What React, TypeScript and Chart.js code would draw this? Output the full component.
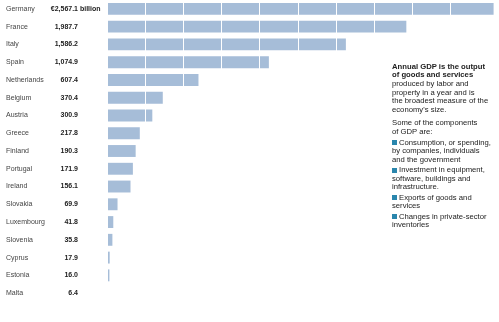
import React, { useEffect, useRef } from "react";
import { Chart, registerables } from "chart.js";

Chart.register(...registerables);

const countries = [
  "Germany", "France", "Italy", "Spain", "Netherlands", "Belgium", "Austria",
  "Greece", "Finland", "Portugal", "Ireland", "Slovakia", "Luxembourg",
  "Slovenia", "Cyprus", "Estonia", "Malta",
];
const gdpValues = [
  2567.1, 1987.7, 1586.2, 1074.9, 607.4, 370.4, 300.9, 217.8, 190.3, 171.9,
  156.1, 69.9, 41.8, 35.8, 17.9, 16.0, 6.4,
];
const valueLabels = [
  "€2,567.1", "1,987.7", "1,586.2", "1,074.9", "607.4", "370.4", "300.9",
  "217.8", "190.3", "171.9", "156.1", "69.9", "41.8", "35.8", "17.9", "16.0", "6.4",
];
const firstSuffix = " billion";

const introBold = ["Annual GDP is the output", "of goods and services"];
const introRest = [
  "produced by labor and",
  "property in a year and is",
  "the broadest measure of the",
  "economy's size.",
];
const componentsIntro = ["Some of the components", "of GDP are:"];
const components = [
  ["Consumption, or spending,", "by companies, individuals", "and the government"],
  ["Investment in equipment,", "software, buildings and", "infrastructure."],
  ["Exports of goods and", "services"],
  ["Changes in private-sector", "inventories"],
];

const FONT = "'Liberation Sans', Arial, sans-serif";
const BAR = "#a6bdd8";
const BULLET = "#2a86ad";

const valuePlugin = {
  id: "valueLabels",
  afterDraw(chart: any) {
    const { ctx } = chart;
    const y = chart.scales.y;
    ctx.save();
    ctx.font = `bold 7px ${FONT}`;
    ctx.fillStyle = "#222";
    ctx.textBaseline = "middle";
    valueLabels.forEach((t, i) => {
      const py = y.getPixelForValue(i);
      ctx.textAlign = "right";
      ctx.fillText(t, 78, py);
      if (i === 0) {
        ctx.textAlign = "left";
        ctx.fillText(firstSuffix, 78, py);
      }
    });
    ctx.restore();
  },
};

export default function App() {
  const ref = useRef<HTMLCanvasElement>(null);
  useEffect(() => {
    if (!ref.current) return;
    const chart = new Chart(ref.current, {
      type: "bar",
      data: {
        labels: countries,
        datasets: [
          {
            data: gdpValues,
            backgroundColor: BAR,
            borderWidth: 0,
            barPercentage: 0.67,
            categoryPercentage: 1,
          },
        ],
      },
      options: {
        indexAxis: "y",
        animation: false,
        responsive: false,
        events: [],
        layout: { padding: { left: 6, top: 0, right: 0, bottom: 20 } },
        plugins: { legend: { display: false }, tooltip: { enabled: false } },
        scales: {
          x: {
            min: 0,
            max: 2603,
            border: { display: false },
            grid: { color: "#ffffff", lineWidth: 1, drawTicks: false, z: 1 },
            ticks: { display: false, stepSize: 253.7 },
          },
          y: {
            border: { display: false },
            grid: { display: false },
            afterFit: (s: any) => {
              s.width = 101;
              s.paddingTop = 0;
              s.paddingBottom = 0;
            },
            ticks: {
              crossAlign: "far",
              color: "#444",
              font: { family: FONT, size: 7 },
              padding: 0,
            },
          },
        },
      },
      plugins: [valuePlugin],
    });
    return () => chart.destroy();
  }, []);

  const line: React.CSSProperties = { height: 8.7, lineHeight: "8.7px", whiteSpace: "nowrap" };
  return (
    <div style={{ position: "fixed", left: 0, top: 0, width: 499, height: 322, background: "#fff" }}>
      <canvas ref={ref} width={499} height={322} style={{ display: "block" }} />
      <div
        style={{
          position: "absolute",
          left: 392,
          top: 62.5,
          fontFamily: FONT,
          fontSize: 7.7,
          color: "#222",
        }}
      >
        {introBold.map((t) => (
          <div key={t} style={{ ...line, fontWeight: "bold" }}>{t}</div>
        ))}
        {introRest.map((t) => (
          <div key={t} style={line}>{t}</div>
        ))}
        <div style={{ height: 4.5 }} />
        {componentsIntro.map((t) => (
          <div key={t} style={line}>{t}</div>
        ))}
        {components.map((item, i) => (
          <div key={i} style={{ marginTop: i === 0 ? 2 : 1.5 }}>
            {item.map((t, j) => (
              <div key={t} style={line}>
                {j === 0 && (
                  <span
                    style={{
                      display: "inline-block",
                      width: 5,
                      height: 5,
                      background: BULLET,
                      marginRight: 2,
                      verticalAlign: "-0.5px",
                    }}
                  />
                )}
                {t}
              </div>
            ))}
          </div>
        ))}
      </div>
    </div>
  );
}
